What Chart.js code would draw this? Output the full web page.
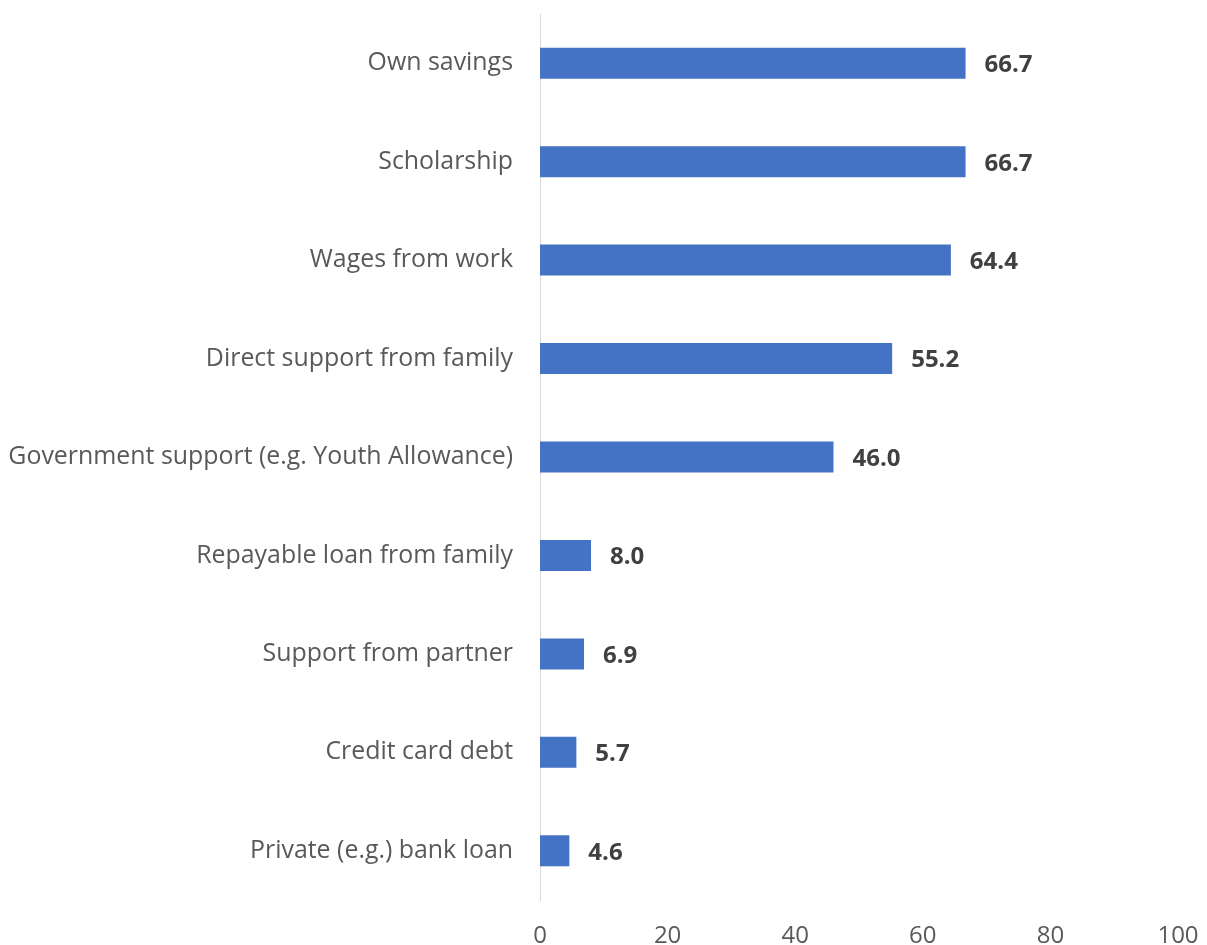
<!DOCTYPE html>
<html>
<head>
<meta charset="utf-8">
<script src="https://cdn.jsdelivr.net/npm/chart.js@4/dist/chart.umd.min.js"></script>
<style>
  html, body { margin: 0; padding: 0; background: #ffffff; }
  #wrap { width: 1207px; height: 945px; position: relative; }
</style>
</head>
<body>
<div id="wrap"><canvas id="c"></canvas></div>
<script>
const categories = [
  "Own savings",
  "Scholarship",
  "Wages from work",
  "Direct support from family",
  "Government support (e.g. Youth Allowance)",
  "Repayable loan from family",
  "Support from partner",
  "Credit card debt",
  "Private (e.g.) bank loan"
];
const values = [66.7, 66.7, 64.4, 55.2, 46.0, 8.0, 6.9, 5.7, 4.6];
const xTicks = [0, 20, 40, 60, 80, 100];

const FONT = "'Open Sans', sans-serif";

const valueLabels = {
  id: 'valueLabels',
  afterDatasetsDraw(chart) {
    const ctx = chart.ctx;
    const meta = chart.getDatasetMeta(0);
    ctx.save();
    ctx.font = "bold 24px " + FONT;
    ctx.fillStyle = '#404040';
    ctx.textAlign = 'left';
    ctx.textBaseline = 'middle';
    meta.data.forEach((bar, i) => {
      ctx.fillText(values[i].toFixed(1), bar.x + 19, bar.y + 2);
    });
    ctx.restore();
  }
};

new Chart(document.getElementById('c'), {
  type: 'bar',
  data: {
    labels: categories,
    datasets: [{
      data: values,
      backgroundColor: '#4472C4',
      borderWidth: 0,
      categoryPercentage: 1,
      barPercentage: 0.315
    }]
  },
  options: {
    indexAxis: 'y',
    responsive: true,
    maintainAspectRatio: false,
    animation: false,
    layout: { padding: { top: 14, right: 29, bottom: 0, left: 0 } },
    plugins: {
      legend: { display: false },
      tooltip: { enabled: false }
    },
    scales: {
      x: {
        min: 0, max: 100,
        afterBuildTicks(scale) { scale.ticks = xTicks.map(v => ({ value: v })); },
        afterFit(scale) {
          scale.height = 45;
          scale.paddingLeft = 0;
          scale.paddingRight = 0;
        },
        grid: { display: false, drawTicks: false },
        border: { display: false },
        ticks: {
          padding: 22,
          color: '#595959',
          font: { family: FONT, size: 24 }
        }
      },
      y: {
        afterFit(scale) {
          scale.width = 540;
          scale.paddingTop = 0;
          scale.paddingBottom = 0;
        },
        grid: { display: false, drawTicks: false },
        border: { display: true, color: '#d9d9d9', width: 1 },
        ticks: {
          padding: 27,
          color: '#595959',
          font: { family: FONT, size: 24.9 }
        }
      }
    }
  },
  plugins: [valueLabels]
});
</script>
</body>
</html>
